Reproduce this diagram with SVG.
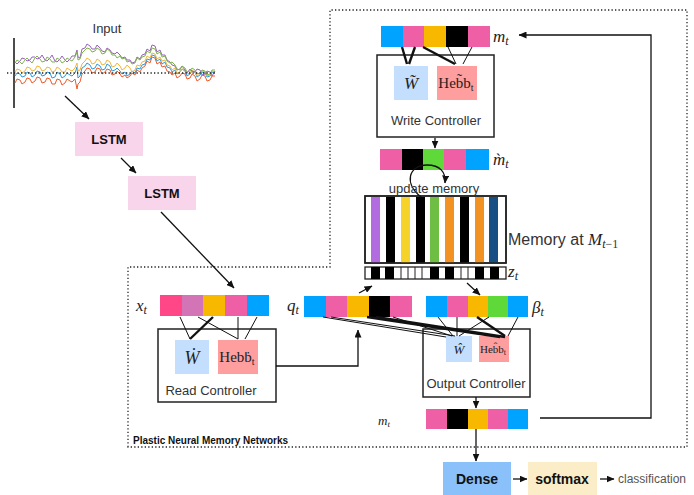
<svg xmlns="http://www.w3.org/2000/svg" width="694" height="495" viewBox="0 0 694 495">
  <style>
    .sans { font-family: "Liberation Sans", Arial, sans-serif; }
    .serif { font-family: "Liberation Serif", "Times New Roman", serif; }
    .lbl { font-family: "Liberation Sans", Arial, sans-serif; font-size: 13px; fill: #333; }
    .math { font-family: "Liberation Serif", "Times New Roman", serif; font-style: italic; fill: #222; }
    .box { fill: #fff; stroke: #222; stroke-width: 1.5; }
    .wt { fill: #C3DFFD; }
    .hb { fill: #FF9E9E; }
    .ln { stroke: #111; stroke-width: 1; fill: none; }
    .thk { stroke: #111; stroke-width: 2.4; fill: none; }
    .arr { stroke: #111; stroke-width: 1.3; fill: none; marker-end: url(#ah); }
    .dot { stroke: #222; stroke-width: 1.3; stroke-dasharray: 1.3 2.2; fill: none; }
    .series { fill: none; stroke-width: 1; stroke-linejoin: round; }
  </style>
  <defs>
    <marker id="ah" markerWidth="8" markerHeight="7" refX="7.5" refY="3.5" orient="auto" markerUnits="userSpaceOnUse">
      <path d="M0,0 L8,3.5 L0,7 z" fill="#111"/>
    </marker>
  </defs>

  <rect width="694" height="495" fill="#fff"/>

  <!-- dotted boundary of the memory network -->
  <g id="pnmn-boundary">
    <path class="dot" d="M128,447 L128,267 L330,267 L330,10 L687,10 L687,447 Z"/>
    <text x="133" y="444" class="sans" font-size="10" font-weight="bold" fill="#111">Plastic Neural Memory Networks</text>
  </g>

  <!-- input time series -->
  <g id="input">
    <text x="107" y="33" class="lbl" font-size="12" text-anchor="middle">Input</text>
    <line x1="14" y1="38" x2="14" y2="108" stroke="#111" stroke-width="1.5"/>
    <polyline class="series" stroke="#F05A28" points="15,83 17,79 20,80 22,84 25,82 27,78 30,79 32,83 35,81 37,77 40,78 42,83 45,82 47,78 50,79 52,84 55,84 57,79 60,80 62,85 65,83 67,79 70,81 72,82 75,79 77,89 78,84 80,82 82,74 85,71 87,68 90,69 92,73 95,72 97,68 100,69 102,74 105,72 107,69 110,70 112,75 115,74 117,71 120,74 122,77 125,75 127,78 130,76 132,73 135,75 137,70 140,72 142,68 145,66 147,61 150,63 152,57 155,58 157,64 160,62 162,67 165,66 167,71 170,72 172,75 175,73 177,78 180,76 182,73 185,74 187,79 190,78 192,74 195,76 197,81 200,79 202,75 205,76 207,81 210,80 212,76 215,76"/>
    <polyline class="series" stroke="#2A9BE0" points="15,76 17,73 20,74 22,77 25,76 27,72 30,73 32,77 35,75 37,71 40,72 42,76 45,75 47,72 50,73 52,78 55,77 57,72 60,74 62,78 65,76 67,73 70,75 72,76 75,73 77,67 78,78 80,76 82,68 85,66 87,63 90,65 92,69 95,68 97,64 100,66 102,70 105,69 107,64 110,66 112,71 115,70 117,68 120,71 122,74 125,72 127,76 130,74 132,71 135,73 137,68 140,69 142,65 145,64 147,59 150,60 152,55 155,56 157,61 160,59 162,64 165,62 167,67 170,68 172,72 175,70 177,74 180,72 182,69 185,71 187,76 190,74 192,71 195,72 197,77 200,75 202,72 205,73 207,77 210,76 212,72 215,73"/>
    <polyline class="series" stroke="#F4B63A" points="15,72 17,69 20,70 22,73 25,71 27,67 30,68 32,71 35,70 37,66 40,67 42,71 45,70 47,67 50,68 52,72 55,71 57,67 60,69 62,72 65,72 67,68 70,70 72,71 75,68 77,63 78,71 80,70 82,64 85,61 87,58 90,60 92,64 95,63 97,59 100,61 102,65 105,64 107,60 110,62 112,67 115,66 117,63 120,66 122,70 125,68 127,65 130,68 132,72 135,70 137,65 140,66 142,62 145,61 147,56 150,58 152,53 155,54 157,59 160,57 162,61 165,60 167,65 170,66 172,70 175,68 177,73 180,72 182,69 185,70 187,74 190,73 192,70 195,72 197,76 200,74 202,71 205,72 207,76 210,75 212,71 215,72"/>
    <polyline class="series" stroke="#9B5FC0" points="15,62 17,64 20,61 22,58 25,59 27,61 30,60 32,57 35,57 37,59 40,58 42,55 45,60 47,61 50,58 52,55 55,61 57,62 60,59 62,56 65,60 67,62 70,59 72,56 75,56 77,50 78,57 80,58 82,49 85,48 87,44 90,46 92,49 95,49 97,45 100,48 102,51 105,52 107,48 110,50 112,53 115,54 117,52 120,55 122,58 125,57 127,60 130,60 132,63 135,62 137,57 140,59 142,55 145,54 147,49 150,51 152,45 155,46 157,52 160,50 162,55 165,55 167,60 170,62 172,65 175,66 177,70 180,69 182,66 185,70 187,73 190,69 192,71 195,72 197,69 200,70 202,75 205,74 207,71 210,72 212,76 215,71"/>
    <polyline class="series" stroke="#7DB54A" points="15,63 17,60 20,62 22,64 25,60 27,58 30,61 32,63 35,58 37,56 40,59 42,62 45,61 47,57 50,59 52,62 55,62 57,58 60,60 62,63 65,61 67,58 70,60 72,61 75,57 77,52 78,60 80,59 82,53 85,50 87,48 90,49 92,52 95,51 97,48 100,50 102,54 105,53 107,49 110,51 112,55 115,55 117,58 120,56 122,59 125,58 127,62 130,61 132,64 135,63 137,58 140,60 142,57 145,56 147,51 150,53 152,48 155,49 157,54 160,52 162,57 165,56 167,61 170,63 172,62 175,65 177,69 180,70 182,66 185,68 187,72 190,71 192,68 195,70 197,74 200,73 202,70 205,71 207,75 210,74 212,70 215,70"/>
    <line class="dot" x1="7" y1="73" x2="216" y2="73" stroke-width="1.6"/>
  </g>

  <g id="lstm1">
    <rect x="75" y="122" width="68" height="34" fill="#F9D5EC"/>
    <text x="109" y="144" class="sans" font-size="13" font-weight="bold" text-anchor="middle" fill="#111">LSTM</text>
  </g>
  <g id="lstm2">
    <rect x="128" y="176" width="68" height="34" fill="#F9D5EC"/>
    <text x="162" y="198" class="sans" font-size="13" font-weight="bold" text-anchor="middle" fill="#111">LSTM</text>
  </g>

  <!-- input vector x_t -->
  <g id="x-t">
    <rect x="160" y="295" width="22" height="21" fill="#FF4787"/>
    <rect x="182" y="295" width="21" height="21" fill="#D274B6"/>
    <rect x="203" y="295" width="22" height="21" fill="#F8B800"/>
    <rect x="225" y="295" width="22" height="21" fill="#EE5FA6"/>
    <rect x="247" y="295" width="22" height="21" fill="#00A3FF"/>
    <text x="136" y="311" class="math" font-size="17">x<tspan font-size="12" dy="3">t</tspan></text>
  </g>

  <g id="read-controller">
    <rect class="box" x="158" y="329" width="118" height="73"/>
    <rect class="wt" x="175" y="340" width="34" height="34"/>
    <text x="192" y="364" class="math" font-size="18" text-anchor="middle">Ẇ</text>
    <rect class="hb" x="218" y="340" width="40" height="34"/>
    <text x="237" y="362" class="serif" font-size="15" fill="#222" text-anchor="middle">Hebḃ<tspan font-size="10" dy="3">t</tspan></text>
    <text x="211" y="395" class="lbl" text-anchor="middle">Read Controller</text>
  </g>

  <!-- query vector q_t -->
  <g id="q-t">
    <rect x="304" y="296" width="22" height="21" fill="#00A3FF"/>
    <rect x="326" y="296" width="21" height="21" fill="#EE5FA6"/>
    <rect x="347" y="296" width="22" height="21" fill="#F8B800"/>
    <rect x="369" y="296" width="21" height="21" fill="#000"/>
    <rect x="390" y="296" width="22" height="21" fill="#EE5FA6"/>
    <text x="287" y="311" class="math" font-size="17">q<tspan font-size="12" dy="3">t</tspan></text>
  </g>

  <!-- gate vector beta_t -->
  <g id="beta-t">
    <rect x="426" y="296" width="21" height="21" fill="#00A3FF"/>
    <rect x="447" y="296" width="21" height="21" fill="#EE5FA6"/>
    <rect x="468" y="296" width="20" height="21" fill="#F8B800"/>
    <rect x="488" y="296" width="20" height="21" fill="#5FD93A"/>
    <rect x="508" y="296" width="20" height="21" fill="#00A3FF"/>
    <text x="532" y="313" class="math" font-size="17" fill="#666">β<tspan font-size="12" dy="3">t</tspan></text>
  </g>

  <g id="output-controller">
    <rect class="box" x="423" y="329" width="107" height="68"/>
    <rect class="wt" x="446" y="336" width="26" height="26"/>
    <text x="459" y="354" class="math" font-size="13" text-anchor="middle">Ŵ</text>
    <rect class="hb" x="479" y="336" width="30" height="26"/>
    <text x="493" y="353" class="serif" font-size="11" fill="#222" text-anchor="middle">Heb̂b<tspan font-size="8" dy="2">t</tspan></text>
    <text x="476" y="388" class="lbl" text-anchor="middle">Output Controller</text>
  </g>

  <!-- output memory vector m_t -->
  <g id="m-t-out">
    <rect x="426" y="409" width="21" height="20" fill="#EE5FA6"/>
    <rect x="447" y="409" width="21" height="20" fill="#000"/>
    <rect x="468" y="409" width="20" height="20" fill="#F8B800"/>
    <rect x="488" y="409" width="20" height="20" fill="#EE5FA6"/>
    <rect x="508" y="409" width="20" height="20" fill="#00A3FF"/>
    <text x="378" y="425" class="math" font-size="13" fill="#555">m<tspan font-size="9" dy="2">t</tspan></text>
  </g>

  <g id="dense">
    <rect x="443" y="462" width="68" height="33" fill="#8BC1FA"/>
    <text x="477" y="484" class="sans" font-size="14" font-weight="bold" text-anchor="middle" fill="#111">Dense</text>
  </g>
  <g id="softmax">
    <rect x="528" y="462" width="69" height="33" fill="#FCEDC9"/>
    <text x="562" y="484" class="sans" font-size="14" font-weight="bold" text-anchor="middle" fill="#111">softmax</text>
  </g>
  <g id="classification">
    <text x="618" y="483" class="sans" font-size="12" fill="#555">classification</text>
  </g>

  <!-- memory matrix M_{t-1} -->
  <g id="memory">
    <rect x="365" y="196" width="141" height="67" fill="#fff" stroke="#222" stroke-width="1.5"/>
    <rect x="371" y="197" width="9" height="66" fill="#B36BE0"/>
    <rect x="386" y="197" width="9" height="66" fill="#000"/>
    <rect x="401" y="197" width="9" height="66" fill="#F6D328"/>
    <rect x="416" y="197" width="9" height="66" fill="#000"/>
    <rect x="430" y="197" width="9" height="66" fill="#6FBE44"/>
    <rect x="445" y="197" width="9" height="66" fill="#F29222"/>
    <rect x="460" y="197" width="9" height="66" fill="#000"/>
    <rect x="475" y="197" width="9" height="66" fill="#F29222"/>
    <rect x="489" y="197" width="9" height="66" fill="#174E84"/>
    <rect x="365" y="196" width="141" height="67" fill="none" stroke="#222" stroke-width="1.5"/>
    <text x="508" y="245" class="sans" font-size="16" fill="#333">Memory at <tspan class="math" font-size="17">M</tspan><tspan class="math" font-size="12" dy="3">t</tspan><tspan class="serif" font-size="12">−1</tspan></text>
  </g>

  <!-- read weights z_t -->
  <g id="z-t">
    <rect x="365" y="267" width="141" height="12" fill="#fff" stroke="#222" stroke-width="1.3"/>
    <rect x="371" y="267" width="9" height="12" fill="#000"/>
    <rect x="385" y="267" width="9" height="12" fill="#000"/>
    <rect x="430" y="267" width="9" height="12" fill="#000"/>
    <rect x="445" y="267" width="9" height="12" fill="#000"/>
    <rect x="475" y="267" width="9" height="12" fill="#000"/>
    <rect x="490" y="267" width="9" height="12" fill="#000"/>
    <g stroke="#222" stroke-width="1">
      <line x1="401" y1="267" x2="401" y2="279"/>
      <line x1="408" y1="267" x2="408" y2="279"/>
      <line x1="415" y1="267" x2="415" y2="279"/>
      <line x1="422" y1="267" x2="422" y2="279"/>
      <line x1="461" y1="267" x2="461" y2="279"/>
      <line x1="468" y1="267" x2="468" y2="279"/>
    </g>
    <text x="508" y="277" class="math" font-size="17">z<tspan font-size="12" dy="3">t</tspan></text>
  </g>

  <!-- written vector (grave m_t) -->
  <g id="m-grave">
    <rect x="380" y="149" width="22" height="21" fill="#EE5FA6"/>
    <rect x="402" y="149" width="21" height="21" fill="#000"/>
    <rect x="423" y="149" width="21" height="21" fill="#5FD93A"/>
    <rect x="444" y="149" width="22" height="21" fill="#EE5FA6"/>
    <rect x="466" y="149" width="23" height="21" fill="#00A3FF"/>
    <text x="493" y="165" class="math" font-size="17">m̀<tspan font-size="12" dy="3">t</tspan></text>
  </g>

  <g id="write-controller">
    <rect class="box" x="377" y="55" width="117" height="82"/>
    <rect class="wt" x="394" y="66" width="34" height="34"/>
    <text x="411" y="89" class="math" font-size="17" text-anchor="middle">W̃</text>
    <rect class="hb" x="437" y="66" width="40" height="34"/>
    <text x="456" y="88" class="serif" font-size="15" fill="#222" text-anchor="middle">Heb̃b<tspan font-size="10" dy="3">t</tspan></text>
    <text x="436" y="125" class="lbl" text-anchor="middle">Write Controller</text>
  </g>

  <!-- input memory vector m_t -->
  <g id="m-t-in">
    <rect x="381" y="26" width="22" height="21" fill="#00A3FF"/>
    <rect x="403" y="26" width="21" height="21" fill="#EE5FA6"/>
    <rect x="424" y="26" width="22" height="21" fill="#F8B800"/>
    <rect x="446" y="26" width="22" height="21" fill="#000"/>
    <rect x="468" y="26" width="22" height="21" fill="#EE5FA6"/>
    <text x="493" y="42" class="math" font-size="17">m<tspan font-size="12" dy="3">t</tspan></text>
  </g>

  <!-- connectors -->
  <g id="connectors">
    <line class="arr" x1="65" y1="96" x2="89" y2="119"/>
    <line class="arr" x1="121" y1="158" x2="136" y2="173"/>
    <line class="arr" x1="161" y1="212" x2="234" y2="288"/>

    <!-- x_t to read controller -->
    <line class="ln" x1="180" y1="317" x2="190" y2="339"/>
    <line class="thk" x1="213" y1="317" x2="190" y2="339"/>
    <line class="ln" x1="198" y1="317" x2="238" y2="339"/>
    <line class="ln" x1="238" y1="317" x2="238" y2="339" stroke-width="1.6"/>
    <line class="ln" x1="257" y1="317" x2="245" y2="339"/>

    <!-- read controller to q_t -->
    <polyline class="arr" points="276,366 358,366 358,330"/>

    <!-- z_t to q_t and beta_t -->
    <line class="arr" x1="359" y1="293" x2="372" y2="286"/>
    <line class="arr" x1="467" y1="283" x2="480" y2="295"/>

    <!-- q_t to output controller -->
    <line class="ln" x1="323" y1="317" x2="446" y2="337"/>
    <line class="ln" x1="331" y1="317" x2="455" y2="336"/>
    <line class="thk" x1="367" y1="317" x2="500" y2="337" stroke-width="2"/>
    <line class="thk" x1="376" y1="317" x2="505" y2="337" stroke-width="2"/>
    <line class="ln" x1="393" y1="317" x2="452" y2="336"/>

    <!-- beta_t to output controller -->
    <line class="ln" x1="438" y1="317" x2="453" y2="336"/>
    <line class="ln" x1="457" y1="317" x2="457" y2="336" stroke-width="1.5"/>
    <line class="ln" x1="489" y1="317" x2="459" y2="336"/>
    <line class="thk" x1="477" y1="317" x2="505" y2="336"/>
    <line class="ln" x1="518" y1="317" x2="508" y2="336"/>

    <line class="arr" x1="476" y1="397" x2="476" y2="408"/>
    <line class="arr" x1="476" y1="429" x2="476" y2="461"/>
    <line class="arr" x1="513" y1="479" x2="527" y2="479"/>
    <line class="arr" x1="600" y1="479" x2="614" y2="479"/>

    <!-- feedback of m_t to write step -->
    <polyline class="arr" points="540,418 651,418 651,35 519,35"/>

    <!-- m_t to write controller -->
    <line class="thk" x1="402" y1="47" x2="407" y2="64"/>
    <line class="thk" x1="415" y1="47" x2="409" y2="64"/>
    <line class="thk" x1="423" y1="47" x2="455" y2="64"/>
    <line class="ln" x1="448" y1="47" x2="456" y2="64"/>
    <line class="ln" x1="472" y1="47" x2="463" y2="64"/>

    <line class="arr" x1="435" y1="138" x2="435" y2="148"/>

    <!-- update memory loop -->
    <path class="arr" d="M421,197 C404,184 408,165 427,165 C440,165 446,172 445,183"/>
    <text x="434" y="193" class="sans" font-size="13" fill="#333" text-anchor="middle">update memory</text>
  </g>
</svg>
